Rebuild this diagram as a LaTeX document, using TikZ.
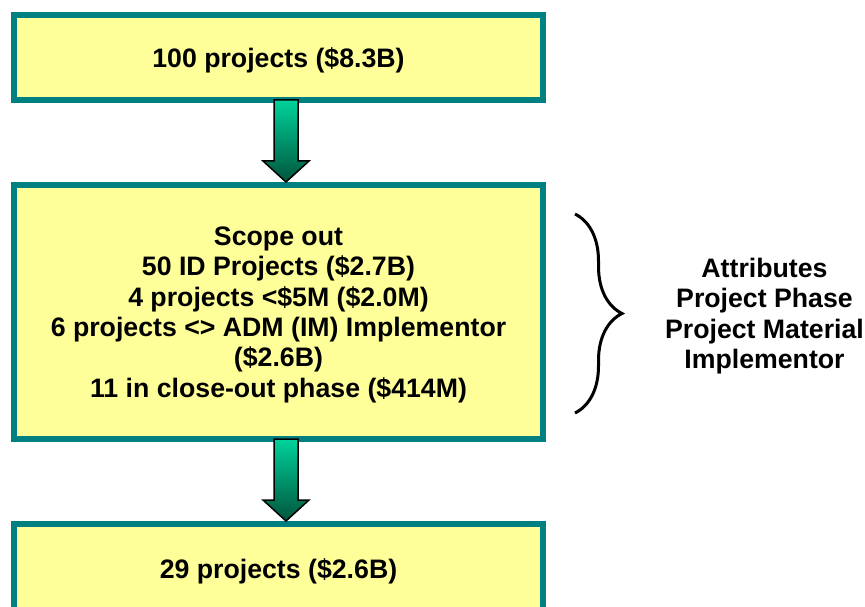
\documentclass[tikz,border=0pt]{standalone}
\usepackage{fontspec}
\setmainfont{Liberation Sans}
\usetikzlibrary{calc,decorations.pathreplacing}
\definecolor{boxline}{HTML}{008080}
\definecolor{boxfill}{HTML}{FFFF99}
\definecolor{flowtop}{RGB}{0,210,155}
\definecolor{flowbot}{RGB}{0,85,60}
\tikzstyle{stage}=[rectangle, draw=boxline, fill=boxfill, line width=6pt,
    minimum width=529pt, align=center, text depth=-2.3pt,
    font=\bfseries\fontsize{26.7}{30.4}\selectfont]
\tikzstyle{flow}=[draw=black, line width=1.5pt, line join=miter,
    top color=flowtop, bottom color=flowbot]
\tikzstyle{attr}=[align=center, font=\bfseries\fontsize{26.7}{30.4}\selectfont]
\newcommand{\stage}{\node[stage]}
% block arrow from the bottom of #1 to the top of #2
\newcommand{\flowarrow}[2]{%
  \shade[flow] (#2.north) ++(7.5,0) -- ++(-23,-21) -- ++(11,0)
    -- ($(#1.south)+(-4.5,-3)$) -- ($(#1.south)+(19.5,-3)$)
    -- ($(#2.north)+(19.5,-21)$) -- ++(11,0) -- cycle;}

\begin{document}
\begin{tikzpicture}[x=1pt, y=-1pt]
\clip (0,0) rectangle (865,607);
\stage[minimum height=85pt] (all) at (278.5,57.5) {100 projects (\$8.3B)};
\stage[minimum height=254pt] (scope) at (278.5,312) {Scope out\\
    50 ID Projects (\$2.7B)\\
    4 projects <\$5M (\$2.0M)\\
    6 projects <> ADM (IM) Implementor\\
    (\$2.6B)\\
    11 in close-out phase (\$414M)};
\stage[minimum height=89pt] (left) at (278.5,568.5) {29 projects (\$2.6B)};
\flowarrow{all}{scope}
\flowarrow{scope}{left}
\coordinate (bt) at (575,214);
\coordinate (bb) at (575,413);
\draw[line width=3pt, decorate, decoration={brace, amplitude=47pt}] (bt) -- (bb);
\node[attr] (attrs) at (764.5,316) {Attributes\\Project Phase\\Project Material\\Implementor};
\end{tikzpicture}
\end{document}
